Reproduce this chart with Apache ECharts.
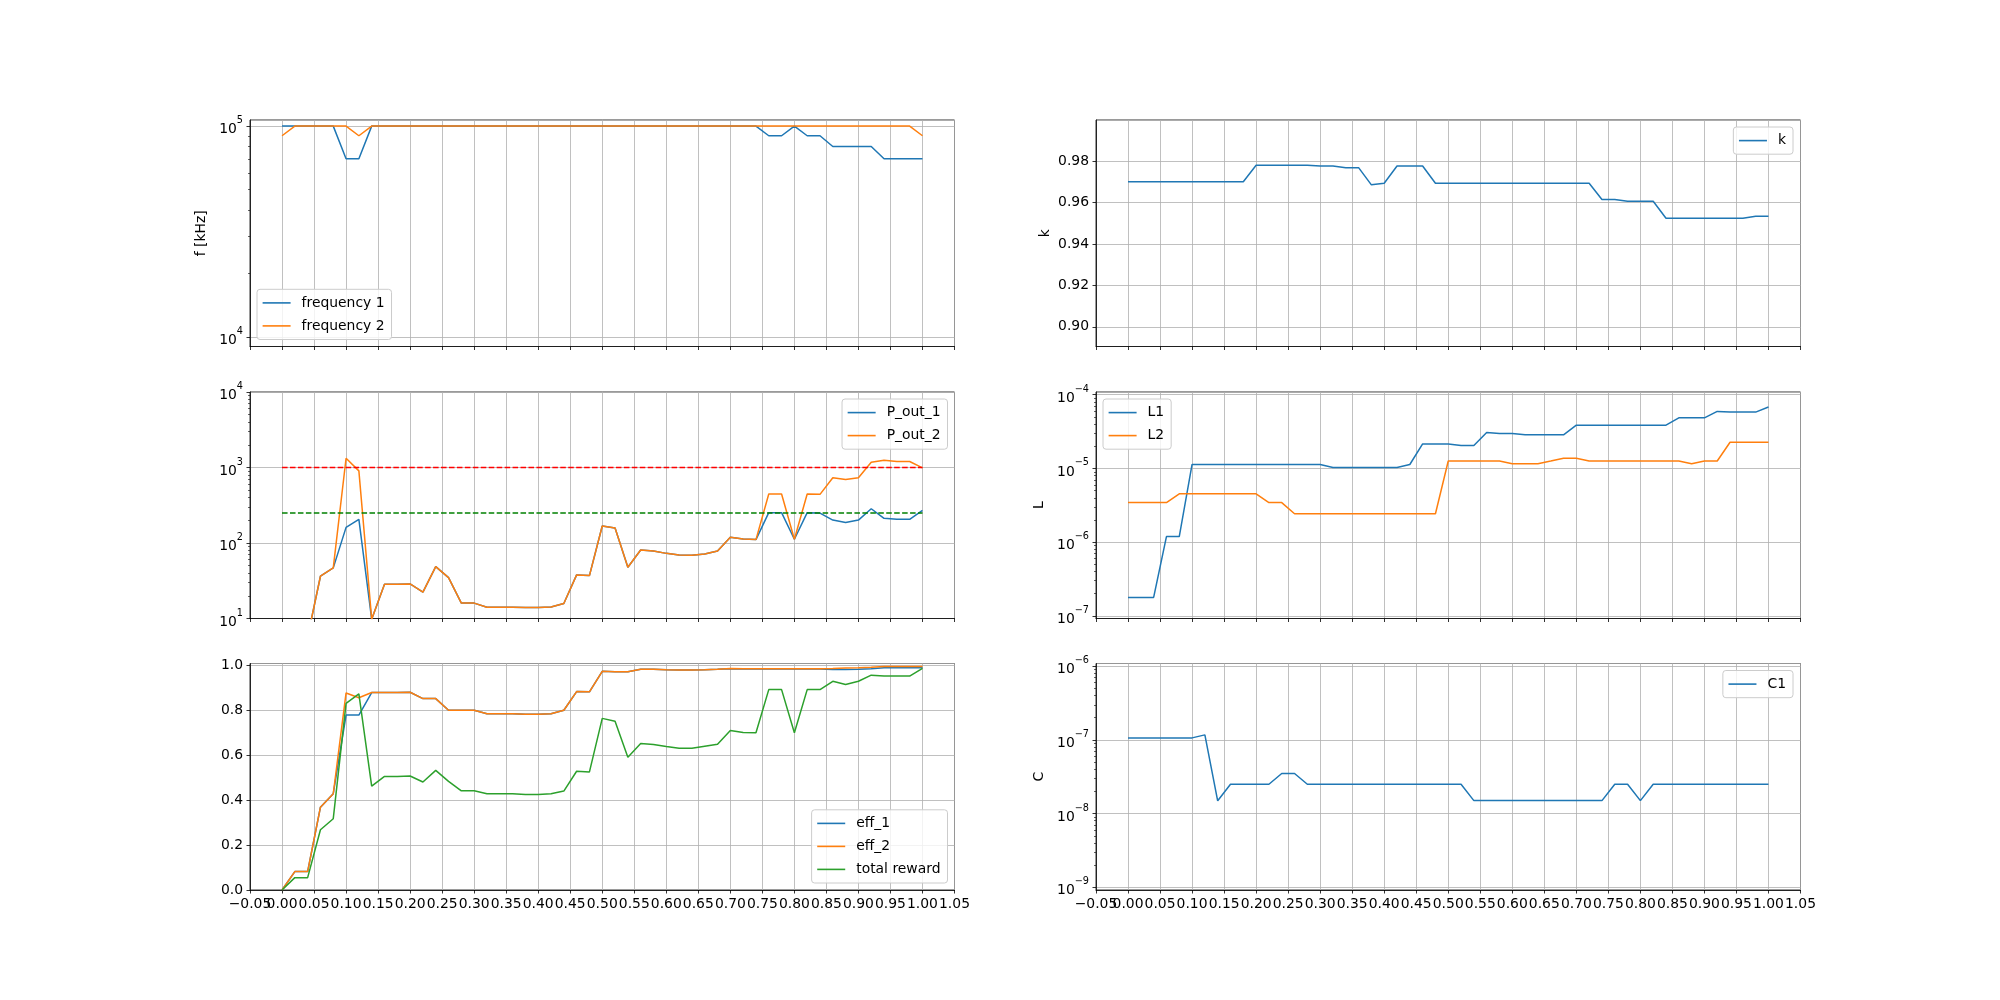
<!DOCTYPE html>
<html lang="en">
<head>
<meta charset="UTF-8">
<title>sweep</title>
<script src="https://cdn.jsdelivr.net/npm/echarts@6.0.0/dist/echarts.min.js"></script>
<style>
    html, body { margin: 0; padding: 0; background: #fff; }
    #chart { width: 2000px; height: 1000px; }
</style>
</head>
<body>
<div id="chart"></div>
<script>
// x positions of the sweep
var xs = [0.00, 0.02, 0.04, 0.06, 0.08, 0.10, 0.12, 0.14, 0.16, 0.18,
          0.20, 0.22, 0.24, 0.26, 0.28, 0.30, 0.32, 0.34, 0.36, 0.38,
          0.40, 0.42, 0.44, 0.46, 0.48, 0.50, 0.52, 0.54, 0.56, 0.58,
          0.60, 0.62, 0.64, 0.66, 0.68, 0.70, 0.72, 0.74, 0.76, 0.78,
          0.80, 0.82, 0.84, 0.86, 0.88, 0.90, 0.92, 0.94, 0.96, 0.98,
          1.00];

var freq1 = [100000, 100000, 100000, 100000, 100000, 70000, 70000, 100000, 100000, 100000,
             100000, 100000, 100000, 100000, 100000, 100000, 100000, 100000, 100000, 100000,
             100000, 100000, 100000, 100000, 100000, 100000, 100000, 100000, 100000, 100000,
             100000, 100000, 100000, 100000, 100000, 100000, 100000, 100000, 90000, 90000,
             100000, 90000, 90000, 80000, 80000, 80000, 80000, 70000, 70000, 70000,
             70000];
var freq2 = [90000, 100000, 100000, 100000, 100000, 100000, 90000, 100000, 100000, 100000,
             100000, 100000, 100000, 100000, 100000, 100000, 100000, 100000, 100000, 100000,
             100000, 100000, 100000, 100000, 100000, 100000, 100000, 100000, 100000, 100000,
             100000, 100000, 100000, 100000, 100000, 100000, 100000, 100000, 100000, 100000,
             100000, 100000, 100000, 100000, 100000, 100000, 100000, 100000, 100000, 100000,
             90000];

var pOut1 = [null, 5.7, 5.7, 36.3, 46.8, 161, 206, 9.8, 28.5, 28.5,
             28.7, 22.3, 48.6, 34.8, 16.0, 16.0, 14.1, 14.1, 14.1, 14.0,
             14.0, 14.2, 15.8, 37.8, 37.0, 168, 158, 47.7, 80.7, 78.3,
             72.9, 69.3, 69.0, 71.6, 78.3, 119, 113, 111, 252, 252,
             112, 252, 249, 201, 187, 201, 284, 212, 206, 206,
             270];
var pOut2 = [null, 5.7, 5.7, 36.3, 46.8, 1327, 903, 9.8, 28.5, 28.5,
             28.7, 22.3, 48.6, 34.8, 16.0, 16.0, 14.1, 14.1, 14.1, 14.0,
             14.0, 14.2, 15.8, 37.8, 37.0, 168, 158, 47.7, 80.7, 78.3,
             72.9, 69.3, 69.0, 71.6, 78.3, 119, 113, 111, 445, 445,
             112, 445, 441, 730, 694, 730, 1175, 1250, 1200, 1200,
             990];
var pMax = 1000;
var pTarget = 250;
var refX = [0, 1];

var eff1 = [0, 0.082, 0.082, 0.368, 0.428, 0.778, 0.778, 0.878, 0.878, 0.878,
            0.879, 0.851, 0.851, 0.799, 0.799, 0.799, 0.784, 0.784, 0.784, 0.781,
            0.781, 0.784, 0.799, 0.882, 0.881, 0.972, 0.970, 0.970, 0.981, 0.981,
            0.979, 0.978, 0.978, 0.979, 0.981, 0.984, 0.982, 0.982, 0.982, 0.982,
            0.982, 0.982, 0.982, 0.980, 0.980, 0.981, 0.984, 0.988, 0.988, 0.988,
            0.988];
var eff2 = [0, 0.082, 0.082, 0.368, 0.428, 0.876, 0.855, 0.878, 0.878, 0.878,
            0.879, 0.851, 0.851, 0.799, 0.799, 0.799, 0.784, 0.784, 0.784, 0.781,
            0.781, 0.784, 0.799, 0.882, 0.881, 0.972, 0.970, 0.970, 0.981, 0.981,
            0.979, 0.978, 0.978, 0.979, 0.981, 0.985, 0.984, 0.984, 0.984, 0.984,
            0.984, 0.984, 0.984, 0.985, 0.987, 0.988, 0.990, 0.994, 0.994, 0.994,
            0.994];
var reward = [0, 0.055, 0.055, 0.268, 0.317, 0.830, 0.872, 0.462, 0.505, 0.505,
              0.507, 0.480, 0.532, 0.483, 0.441, 0.441, 0.428, 0.428, 0.428, 0.425,
              0.425, 0.428, 0.440, 0.528, 0.525, 0.763, 0.750, 0.590, 0.651, 0.647,
              0.638, 0.630, 0.630, 0.639, 0.648, 0.709, 0.700, 0.699, 0.891, 0.891,
              0.699, 0.891, 0.891, 0.928, 0.914, 0.928, 0.955, 0.951, 0.951, 0.951,
              0.985];

var kVals = [0.970, 0.970, 0.970, 0.970, 0.970, 0.970, 0.970, 0.970, 0.970, 0.970,
             0.978, 0.978, 0.978, 0.978, 0.978, 0.9776, 0.9776, 0.9768, 0.9768, 0.9685,
             0.9693, 0.9776, 0.9776, 0.9776, 0.9693, 0.9693, 0.9693, 0.9693, 0.9693, 0.9693,
             0.9693, 0.9693, 0.9693, 0.9693, 0.9693, 0.9693, 0.9693, 0.9614, 0.9614, 0.9606,
             0.9606, 0.9606, 0.9524, 0.9524, 0.9524, 0.9524, 0.9524, 0.9524, 0.9524, 0.9533,
             0.9533];

var L1 = [1.78e-7, 1.78e-7, 1.78e-7, 1.19e-6, 1.19e-6, 1.13e-5, 1.13e-5, 1.13e-5, 1.13e-5, 1.13e-5,
          1.13e-5, 1.13e-5, 1.13e-5, 1.13e-5, 1.13e-5, 1.13e-5, 1.03e-5, 1.03e-5, 1.03e-5, 1.03e-5,
          1.03e-5, 1.03e-5, 1.13e-5, 2.15e-5, 2.15e-5, 2.15e-5, 2.04e-5, 2.04e-5, 3.06e-5, 2.97e-5,
          2.97e-5, 2.85e-5, 2.85e-5, 2.85e-5, 2.85e-5, 3.86e-5, 3.86e-5, 3.86e-5, 3.86e-5, 3.86e-5,
          3.86e-5, 3.86e-5, 3.86e-5, 4.85e-5, 4.85e-5, 4.85e-5, 5.93e-5, 5.8e-5, 5.8e-5, 5.8e-5,
          6.79e-5];
var L2 = [3.44e-6, 3.44e-6, 3.44e-6, 3.44e-6, 4.52e-6, 4.52e-6, 4.52e-6, 4.52e-6, 4.52e-6, 4.52e-6,
          4.52e-6, 3.44e-6, 3.44e-6, 2.43e-6, 2.43e-6, 2.43e-6, 2.43e-6, 2.43e-6, 2.43e-6, 2.43e-6,
          2.43e-6, 2.43e-6, 2.43e-6, 2.43e-6, 2.43e-6, 1.26e-5, 1.26e-5, 1.26e-5, 1.26e-5, 1.26e-5,
          1.16e-5, 1.16e-5, 1.16e-5, 1.26e-5, 1.37e-5, 1.37e-5, 1.26e-5, 1.26e-5, 1.26e-5, 1.26e-5,
          1.26e-5, 1.26e-5, 1.26e-5, 1.26e-5, 1.16e-5, 1.26e-5, 1.26e-5, 2.26e-5, 2.26e-5, 2.26e-5,
          2.26e-5];

var C1 = [1.065e-7, 1.065e-7, 1.065e-7, 1.065e-7, 1.065e-7, 1.065e-7, 1.17e-7, 1.49e-8, 2.5e-8, 2.5e-8,
          2.5e-8, 2.5e-8, 3.5e-8, 3.5e-8, 2.5e-8, 2.5e-8, 2.5e-8, 2.5e-8, 2.5e-8, 2.5e-8,
          2.5e-8, 2.5e-8, 2.5e-8, 2.5e-8, 2.5e-8, 2.5e-8, 2.5e-8, 1.5e-8, 1.5e-8, 1.5e-8,
          1.5e-8, 1.5e-8, 1.5e-8, 1.5e-8, 1.5e-8, 1.5e-8, 1.5e-8, 1.5e-8, 2.5e-8, 2.5e-8,
          1.5e-8, 2.5e-8, 2.5e-8, 2.5e-8, 2.5e-8, 2.5e-8, 2.5e-8, 2.5e-8, 2.5e-8, 2.5e-8,
          2.5e-8];

var FONT = 'DejaVu Sans';
var FS = 13.9;
var BLUE = '#1f77b4', ORANGE = '#ff7f0e', GREEN = '#2ca02c';

// subplot boxes (matplotlib default 3x2 layout in a 2000x1000 figure)
var colLeft = [250, 1096];
var rowTop = [120, 392, 663.5];
var W = 704.5, H = 226.5;

var grids = [];
[[0, 0], [0, 1], [0, 2], [1, 0], [1, 1], [1, 2]].forEach(function (p) {
    grids.push({
        left: colLeft[p[0]], top: rowTop[p[1]], width: W, height: H,
        show: true, borderColor: '#000', borderWidth: 0.8, backgroundColor: 'transparent'
    });
});

function fmtX(v) {
    if (Math.abs(v) < 1e-9) v = 0;
    return v.toFixed(2).replace('-', '\u2212');
}

function fmtPow(v) {
    var e = Math.round(Math.log10(v));
    return '{b|10}{e|' + (e < 0 ? '\u2212' + (-e) : e) + '}';
}

var powRich = {
    b: { fontFamily: FONT, fontSize: FS, color: '#000', lineHeight: 21, verticalAlign: 'bottom' },
    e: { fontFamily: FONT, fontSize: 9.7, color: '#000', lineHeight: 11, verticalAlign: 'top' }
};

// main x axis; the -0.05 label is left empty here so that ECharts does not
// drop the overlapping 0.00 label, and drawn by edgeXAxis instead
function xAxisFor(i, showLabels) {
    return {
        type: 'value', gridIndex: i, min: -0.05, max: 1.05, interval: 0.05, position: 'bottom',
        axisLine: { show: true, onZero: false, lineStyle: { color: '#000', width: 0.8 } },
        axisTick: { show: true, length: 3.5, lineStyle: { color: '#000', width: 0.8 } },
        axisLabel: { show: showLabels, margin: 7, color: '#000', fontFamily: FONT, fontSize: FS,
                     formatter: function (v) { return v < -0.04 ? '' : fmtX(v); },
                     hideOverlap: false, showMinLabel: true, showMaxLabel: true },
        splitLine: { show: true, lineStyle: { color: '#b0b0b0', width: 0.8 } }
    };
}

function edgeXAxis(i) {
    return {
        type: 'value', gridIndex: i, min: -0.05, max: 1.05, interval: 0.05, position: 'bottom',
        axisLine: { show: false, onZero: false },
        axisTick: { show: false },
        axisLabel: { show: true, margin: 7, color: '#000', fontFamily: FONT, fontSize: FS,
                     formatter: function (v) { return v < -0.04 ? fmtX(v) : ''; },
                     hideOverlap: false, showMinLabel: true },
        splitLine: { show: false }
    };
}

function nameStyle() {
    return { fontFamily: FONT, fontSize: FS, color: '#000' };
}

function logAxis(i, min, max, name, gap, edgeLabels) {
    return {
        type: 'log', logBase: 10, gridIndex: i, min: min, max: max, position: 'left',
        name: name, nameLocation: 'middle', nameGap: gap, nameRotate: 90, nameTextStyle: nameStyle(),
        axisLine: { show: true, onZero: false, lineStyle: { color: '#000', width: 0.8 } },
        axisTick: { show: true, length: 3.5, lineStyle: { color: '#000', width: 0.8 } },
        axisLabel: { margin: 7, formatter: fmtPow, rich: powRich,
                     showMinLabel: edgeLabels, showMaxLabel: edgeLabels },
        splitLine: { show: true, lineStyle: { color: '#b0b0b0', width: 0.8 } }
    };
}

// minor log ticks (2..9 x 10^n) on an extra silent axis
function minorAxis(i, min, max) {
    var vals = [];
    for (var e = Math.floor(Math.log10(min)); e <= Math.ceil(Math.log10(max)); e++) {
        for (var m = 2; m <= 9; m++) {
            var v = m * Math.pow(10, e);
            if (v >= min && v <= max) vals.push(v);
        }
    }
    return {
        type: 'log', logBase: 10, gridIndex: i, min: min, max: max, position: 'left',
        axisLine: { show: false, onZero: false },
        axisTick: { show: true, length: 2, customValues: vals, lineStyle: { color: '#000', width: 0.6 } },
        axisLabel: { show: false },
        splitLine: { show: false }
    };
}

function linAxis(i, min, max, interval, digits, name, gap) {
    var ax = {
        type: 'value', gridIndex: i, min: min, max: max, position: 'left',
        name: name, nameLocation: 'middle', nameGap: gap, nameRotate: 90, nameTextStyle: nameStyle(),
        axisLine: { show: true, onZero: false, lineStyle: { color: '#000', width: 0.8 } },
        axisTick: { show: true, length: 3.5, lineStyle: { color: '#000', width: 0.8 } },
        axisLabel: { margin: 7, color: '#000', fontFamily: FONT, fontSize: FS,
                     showMinLabel: false, showMaxLabel: false,
                     formatter: function (v) { return v.toFixed(digits); } },
        splitLine: { show: true, lineStyle: { color: '#b0b0b0', width: 0.8 } }
    };
    if (interval) ax.interval = interval;
    return ax;
}

var fMin = 9016, fMax = 106900;
var lMin = 9.23e-8, lMax = 1.086e-4;
var cMin = 9.18e-10, cMax = 1.089e-6;

var yAxes = [
    logAxis(0, fMin, fMax, 'f [kHz]', 42, false),   // 0
    minorAxis(0, fMin, fMax),                        // 1
    logAxis(1, 10, 10000, '', 40, true),             // 2
    minorAxis(1, 10, 10000),                         // 3
    linAxis(2, 0, 1.007, 0.2, 1, '', 40),            // 4
    linAxis(3, 0.8905, 0.9998, null, 2, 'k', 44),    // 5
    logAxis(4, lMin, lMax, 'L', 50, false),          // 6
    minorAxis(4, lMin, lMax),                        // 7
    logAxis(5, cMin, cMax, 'C', 50, false),          // 8
    minorAxis(5, cMin, cMax)                         // 9
];
// eff: 0.0 is a real tick, only the 1.007 edge is hidden
yAxes[4].axisLabel.showMinLabel = true;

function pairs(xv, yv) {
    return xv.map(function (x, i) { return [x, yv[i] == null ? '-' : yv[i]]; });
}

function line(name, xi, yi, yv, color) {
    return {
        type: 'line', name: name, xAxisIndex: xi, yAxisIndex: yi,
        data: pairs(xs, yv), symbol: 'none', showSymbol: false, clip: true,
        lineStyle: { color: color, width: 1.5 },
        itemStyle: { color: color },
        emphasis: { disabled: true }, silent: true, animation: false
    };
}

function refLine(xi, yi, level, color) {
    return {
        type: 'line', xAxisIndex: xi, yAxisIndex: yi,
        data: refX.map(function (x) { return [x, level]; }),
        symbol: 'none', showSymbol: false, clip: true,
        lineStyle: { color: color, width: 1.5, type: [5.55, 2.4] },
        emphasis: { disabled: true }, silent: true, animation: false
    };
}

function legendBox(names, pos) {
    var lg = {
        orient: 'vertical', data: names, selectedMode: false,
        icon: 'rect', itemWidth: 28, itemHeight: 1.6, itemGap: 7,
        padding: [5.6, 7, 5.6, 5.6],
        backgroundColor: 'rgba(255,255,255,0.8)', borderColor: '#cccccc', borderWidth: 1, borderRadius: 3,
        textStyle: { fontFamily: FONT, fontSize: FS, color: '#000', lineHeight: 16, padding: [0, 0, 0, 6] }
    };
    for (var k in pos) lg[k] = pos[k];
    return lg;
}

var option = {
    animation: false,
    backgroundColor: '#fff',
    grid: grids,
    xAxis: [xAxisFor(0, false), xAxisFor(1, false), xAxisFor(2, true),
            xAxisFor(3, false), xAxisFor(4, false), xAxisFor(5, true),
            edgeXAxis(2), edgeXAxis(5)],
    yAxis: yAxes,
    legend: [
        legendBox(['frequency 1', 'frequency 2'], { left: 257, bottom: 1000 - 339.5 }),
        legendBox(['P_out_1', 'P_out_2'], { right: 1052.5, top: 399 }),
        legendBox(['eff_1', 'eff_2', 'total reward'], { right: 1052.5, bottom: 117 }),
        legendBox(['k'], { right: 207, top: 127 }),
        legendBox(['L1', 'L2'], { left: 1103, top: 399 }),
        legendBox(['C1'], { right: 207, top: 670.5 })
    ],
    series: [
        line('frequency 1', 0, 0, freq1, BLUE),
        line('frequency 2', 0, 0, freq2, ORANGE),
        line('P_out_1', 1, 2, pOut1, BLUE),
        line('P_out_2', 1, 2, pOut2, ORANGE),
        refLine(1, 2, pMax, '#ff0000'),
        refLine(1, 2, pTarget, '#008000'),
        line('eff_1', 2, 4, eff1, BLUE),
        line('eff_2', 2, 4, eff2, ORANGE),
        line('total reward', 2, 4, reward, GREEN),
        line('k', 3, 5, kVals, BLUE),
        line('L1', 4, 6, L1, BLUE),
        line('L2', 4, 6, L2, ORANGE),
        line('C1', 5, 8, C1, BLUE)
    ]
};

var chart = echarts.init(document.getElementById('chart'), null, { renderer: 'canvas' });
chart.setOption(option);
</script>
</body>
</html>
